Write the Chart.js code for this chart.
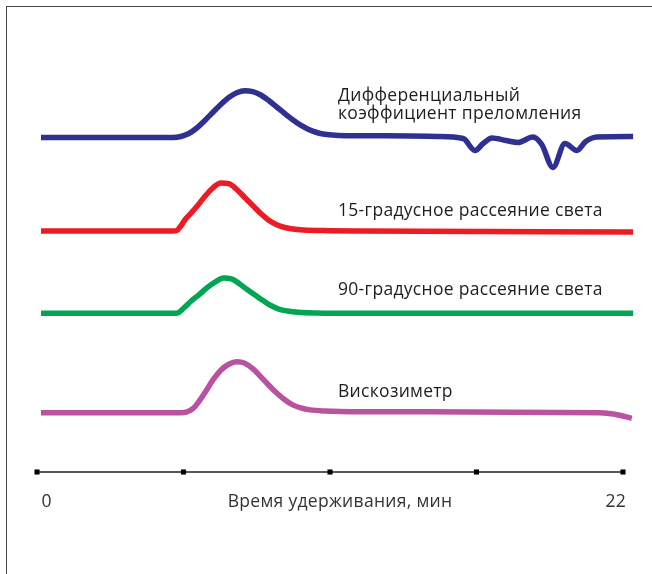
<!DOCTYPE html>
<html>
<head>
<meta charset="utf-8">
<script src="https://cdn.jsdelivr.net/npm/chart.js@4/dist/chart.umd.min.js"></script>
<style>
  html, body { margin: 0; padding: 0; background: #fff; }
  #wrap { position: relative; width: 652px; height: 574px; overflow: hidden; }
  #frame { position: absolute; left: 6px; top: 6px; width: 700px; height: 700px;
           border-left: 1.6px solid #474747; border-top: 1.6px solid #474747; pointer-events: none; }
  canvas { position: absolute; left: 0; top: 0; }
</style>
</head>
<body>
<div id="wrap">
  <canvas id="c" width="652" height="574"></canvas>
  <div id="frame"></div>
</div>
<script>
// ---- Data (time in minutes, detector deflection in arbitrary units) ----
const riTime  = [0.15, 2, 4, 5.1, 5.4, 5.7, 6.0, 6.3, 6.6, 6.9, 7.2, 7.5, 7.8, 8.1, 8.4, 8.7, 9.0, 9.3, 9.6, 9.9, 10.2, 10.5, 10.8, 11.2, 12, 14, 15, 16.0, 16.44, 16.75, 17.08, 17.6, 18.06, 18.62, 18.95, 19.37, 19.82, 20.27, 20.6, 21.02, 22.38];
const riValue = [0, 0, 0, 0, 1, 4, 9.5, 17, 25, 33, 40, 44.8, 46.8, 45.8, 42.5, 37, 30.5, 24, 17.8, 12.3, 8, 5, 3.3, 2.3, 1.8, 1.5, 1, -1, -13, -6, -0.5, -3, -5, 0.5, -7, -30, -6, -13, -4, 0.5, 1];

const ls15Time  = [0.15, 3, 5.1, 5.25, 5.4, 5.55, 5.7, 6.0, 6.3, 6.6, 6.9, 7.2, 7.5, 7.8, 8.1, 8.4, 8.7, 9.0, 9.3, 9.6, 10.0, 11, 12, 22.38];
const ls15Value = [0, 0, 0, 0.5, 5, 11, 15.5, 24.5, 34.5, 43, 48, 47.3, 41.5, 33.5, 25.5, 17.5, 10.8, 6.2, 3.5, 2, 1, 0.3, 0, -1];

const ls90Time  = [0.15, 3, 5.1, 5.3, 5.5, 5.8, 6.1, 6.4, 6.7, 7.0, 7.3, 7.6, 7.9, 8.2, 8.5, 8.8, 9.1, 9.4, 9.8, 10.5, 12, 22.38];
const ls90Value = [0, 0, 0, 0.5, 5, 12.5, 19, 26, 31.5, 35.3, 34.5, 29.5, 23.5, 18, 12.5, 7.5, 4, 2.3, 1, 0.3, 0, 0];

const viscTime  = [0.15, 3, 5.4, 5.6, 5.85, 6.1, 6.35, 6.6, 6.9, 7.2, 7.5, 7.8, 8.1, 8.4, 8.7, 9.0, 9.3, 9.6, 9.9, 10.25, 10.8, 12.13, 21.14, 21.7, 22.33];
const viscValue = [0, 0, 0, 0.5, 4, 12, 22, 32.5, 42.5, 48.5, 51, 49.5, 44, 36, 27.5, 19.7, 13, 7.8, 4.8, 2.8, 1.7, 1, 0, -1.5, -5.6];

// Trace offsets for the stacked display
const offsets = { ri: 436.5, ls15: 343, ls90: 260.7, visc: 161.3, axis: 102 };

const axisTicks = [0, 5.5, 11, 16.5, 22];
const axisTickLabels = ['0', '22'];
const axisTitle = 'Время удерживания, мин';

const traceLabels = [
  ['Дифференциальный', 'коэффициент преломления'],
  ['15-градусное рассеяние света'],
  ['90-градусное рассеяние света'],
  ['Вискозиметр']
];

const colors = { ri: '#2e3192', ls15: '#ed1c24', ls90: '#00a651', visc: '#b9529f' };

function series(times, vals, off) {
  return times.map((t, i) => ({ x: t, y: off + vals[i] }));
}

function traceDs(times, vals, off, color) {
  return {
    data: series(times, vals, off),
    borderColor: color,
    borderWidth: 5.5,
    pointRadius: 0,
    fill: false,
    cubicInterpolationMode: 'monotone',
    borderJoinStyle: 'round',
    borderCapStyle: 'butt'
  };
}

const PAD = 10;
const PX_PER_MIN = 586 / 22;

const textPlugin = {
  id: 'texts',
  afterDraw(chart) {
    const ctx = chart.ctx;
    const xs = chart.scales.x;
    ctx.save();
    try { ctx.letterSpacing = '0.3px'; } catch (e) {}
    ctx.fillStyle = '#1e1e1e';
    ctx.font = '17.5px "Open Sans"';
    ctx.textAlign = 'left';
    ctx.textBaseline = 'alphabetic';
    const lx = 338;
    ctx.fillText(traceLabels[0][0], lx, 101);
    ctx.fillText(traceLabels[0][1], lx, 118.5);
    ctx.fillText(traceLabels[1][0], lx, 215.5);
    ctx.fillText(traceLabels[2][0], lx, 295);
    ctx.fillText(traceLabels[3][0], lx, 396.5);

    ctx.fillStyle = '#333';
    ctx.textAlign = 'left';
    ctx.fillText(axisTickLabels[0], xs.getPixelForValue(axisTicks[0]) + 4.5, 507);
    ctx.textAlign = 'right';
    ctx.fillText(axisTickLabels[1], xs.getPixelForValue(axisTicks[4]) + 3, 507);
    ctx.textAlign = 'center';
    ctx.fillText(axisTitle, 340, 507);
    ctx.restore();
  }
};

new Chart(document.getElementById('c'), {
  type: 'line',
  data: {
    datasets: [
      traceDs(riTime, riValue, offsets.ri, colors.ri),
      traceDs(ls15Time, ls15Value, offsets.ls15, colors.ls15),
      traceDs(ls90Time, ls90Value, offsets.ls90, colors.ls90),
      traceDs(viscTime, viscValue, offsets.visc, colors.visc),
      {
        data: axisTicks.map(t => ({ x: t, y: offsets.axis })),
        borderColor: '#222',
        borderWidth: 1.5,
        pointStyle: 'rect',
        pointRadius: 3.6,
        pointBackgroundColor: '#000',
        pointBorderColor: '#000',
        pointBorderWidth: 0,
        tension: 0,
        fill: false
      }
    ]
  },
  options: {
    responsive: false,
    animation: false,
    layout: { padding: PAD },
    plugins: { legend: { display: false }, tooltip: { enabled: false } },
    scales: {
      x: { type: 'linear', min: -(37 - PAD) / PX_PER_MIN, max: (652 - PAD - 37) / PX_PER_MIN, display: false },
      y: { type: 'linear', min: PAD, max: 574 - PAD, display: false }
    }
  },
  plugins: [textPlugin]
});
</script>
</body>
</html>
